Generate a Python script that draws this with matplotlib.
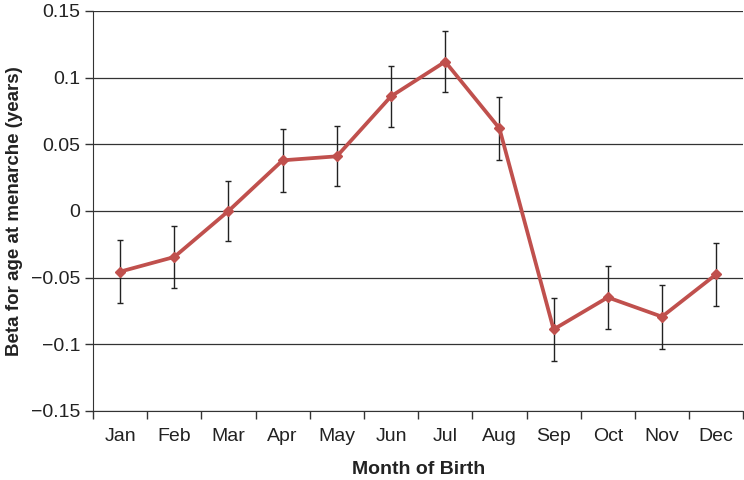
import matplotlib
matplotlib.use("Agg")
import matplotlib.pyplot as plt
import numpy as np

months = ["Jan", "Feb", "Mar", "Apr", "May", "Jun", "Jul", "Aug", "Sep", "Oct", "Nov", "Dec"]
beta = [-0.0455, -0.0345, 0.0, 0.038, 0.041, 0.086, 0.112, 0.062, -0.0888, -0.0648, -0.0793, -0.0475]
err = [0.0235, 0.0235, 0.0225, 0.0235, 0.0225, 0.0230, 0.0230, 0.0235, 0.0235, 0.0235, 0.0240, 0.0235]
yticks = [-0.15, -0.1, -0.05, 0, 0.05, 0.1, 0.15]
yticklabels = ["\u22120.15", "\u22120.1", "\u22120.05", "0", "0.05", "0.1", "0.15"]

plt.rcParams['font.family'] = ['Liberation Sans', 'DejaVu Sans']

fig = plt.figure(figsize=(7.44, 4.8), dpi=100)
ax = fig.add_axes([0.125, 0.1438, 0.874, 0.8333])

x = np.arange(len(months))
ax.errorbar(x, beta, yerr=err, fmt='none', ecolor='#222222', elinewidth=1.0,
            capsize=2.5, capthick=1.0, zorder=3)
ax.plot(x, beta, color='#C0504D', linewidth=2.7, marker='D', markersize=5,
        markerfacecolor='#C0504D', markeredgecolor='#C0504D', zorder=4)

ax.set_xlim(-0.5, len(months) - 0.5)
ax.set_ylim(-0.15, 0.15)
ax.set_yticks(yticks)
ax.set_yticklabels(yticklabels, fontsize=14, color='#222222')
ax.yaxis.grid(True, color='#333333', linewidth=0.9)
ax.set_axisbelow(True)

ax.set_xticks(x)
ax.set_xticklabels(months, fontsize=14, color='#222222')
ax.tick_params(axis='x', which='major', length=0, pad=12)
ax.set_xticks(np.arange(-0.5, len(months)), minor=True)
ax.tick_params(axis='x', which='minor', length=6, width=1.0, color='#333333', direction='out')
ax.tick_params(axis='y', length=6, width=1.0, color='#333333', direction='out', pad=3)

for s in ['top', 'right']:
    ax.spines[s].set_visible(False)
ax.spines['left'].set_color('#333333')
ax.spines['bottom'].set_color('#333333')

ax.set_xlabel("Month of Birth", fontsize=14, fontweight='bold', labelpad=12, color='#222222')
ax.set_ylabel("Beta for age at menarche (years)", fontsize=13.5, fontweight='bold', labelpad=6, color='#222222')

fig.savefig("out.png", dpi=100)
